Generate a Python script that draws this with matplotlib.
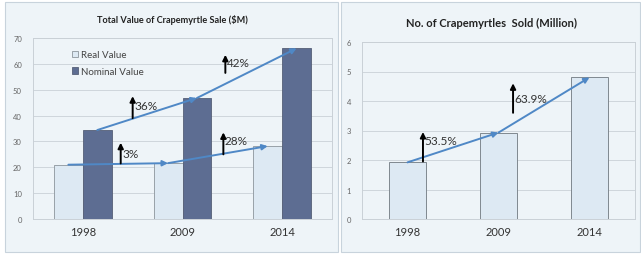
from matplotlib import pyplot as plt
from matplotlib.patches import Rectangle

years = ['1998', '2009', '2014']
real_value = [21.0, 21.6, 28.2]
nominal_value = [34.4, 46.8, 66.0]
sold_million = [1.92, 2.93, 4.80]

value_pcts = ['3%', '28%']
nominal_pcts = ['36%', '42%']
sold_pcts = ['53.5%', '63.9%']

W, H = 641, 255
plt.rcParams['font.family'] = ['Lato', 'DejaVu Sans']

bg = '#eef4f8'
real_c = '#dde9f3'
nom_c = '#5d6d92'
line_c = '#4f88c6'
grid_c = '#cfd6dc'


def px(x0, y0, x1, y1):
    # pixel box (top-left origin) -> figure fraction rect
    return [x0 / W, 1 - y1 / H, (x1 - x0) / W, (y1 - y0) / H]


fig = plt.figure(figsize=(W / 100, H / 100), dpi=100)
fig.patch.set_facecolor('white')
for (x0, y0, x1, y1) in [(5, 3, 338, 253), (341, 3, 640, 253)]:
    fig.patches.append(Rectangle((x0 / W, 1 - y1 / H), (x1 - x0) / W, (y1 - y0) / H,
                                 transform=fig.transFigure, facecolor=bg,
                                 edgecolor='#c8d3dc', lw=0.8, zorder=-10))


def style(ax, ymax, step):
    ax.set_facecolor(bg)
    ax.set_ylim(0, ymax)
    ax.set_xlim(-0.5, 2.5)
    ax.set_yticks(range(0, ymax + 1, step))
    ax.yaxis.grid(True, color=grid_c, lw=0.7)
    ax.set_axisbelow(True)
    for s in ax.spines.values():
        s.set_color('#c9d0d6')
        s.set_linewidth(0.7)
    ax.tick_params(axis='y', length=0, labelsize=5.5, labelcolor='#666666', pad=8)
    ax.tick_params(axis='x', length=0, labelsize=8, labelcolor='#333333', pad=5)
    ax.set_xticks(range(len(years)))
    ax.set_xticklabels(years)


def up_arrow(ax, x, y0, y1, label, ty):
    ax.annotate('', xy=(x, y1), xytext=(x, y0),
                arrowprops=dict(arrowstyle='-|>', color='black', lw=1.4,
                                mutation_scale=8, shrinkA=0, shrinkB=0), zorder=6)
    ax.text(x + 0.015, ty, label, fontsize=8.5, color='#333333', va='center', zorder=6)


def trend(ax, xs, ys):
    for i in range(len(xs) - 1):
        ax.annotate('', xy=(xs[i + 1], ys[i + 1]), xytext=(xs[i], ys[i]),
                    arrowprops=dict(arrowstyle='-|>', color=line_c, lw=1.4,
                                    mutation_scale=8, shrinkA=0, shrinkB=0), zorder=5)


# left panel
ax1 = fig.add_axes(px(33, 39, 332, 220))
style(ax1, 70, 10)
x = range(len(years))
bw = 0.29
xr = [i - bw / 2 for i in x]
xn = [i + bw / 2 for i in x]
ax1.bar(xr, real_value, bw, color=real_c, edgecolor='#8c959c', lw=0.6, label='Real Value')
ax1.bar(xn, nominal_value, bw, color=nom_c, edgecolor='#555f77', lw=0.6, label='Nominal Value')
trend(ax1, xr, real_value)
trend(ax1, xn, nominal_value)
up_arrow(ax1, 0.38, 21.5, 29.5, value_pcts[0], 25.5)
up_arrow(ax1, 1.41, 25, 33.5, value_pcts[1], 30.5)
up_arrow(ax1, 0.5, 39, 47.5, nominal_pcts[0], 44)
up_arrow(ax1, 1.43, 56.5, 63.5, nominal_pcts[1], 60.5)
ax1.legend(loc='upper left', bbox_to_anchor=(0.1, 0.98), frameon=False, fontsize=7,
           handlelength=0.7, handleheight=0.7, handletextpad=0.3, labelspacing=0.8,
           labelcolor='#444444')
fig.text(172 / W, 1 - 20 / H, 'Total Value of Crapemyrtle Sale ($M)', ha='center',
         va='center', fontsize=6.6, fontweight='bold', color='#222222')

# right panel
ax2 = fig.add_axes(px(362, 43, 635, 220))
style(ax2, 6, 1)
ax2.bar(x, sold_million, 0.41, color=real_c, edgecolor='#7f888f', lw=0.7)
trend(ax2, list(x), sold_million)
up_arrow(ax2, 0.17, 1.95, 2.95, sold_pcts[0], 2.65)
up_arrow(ax2, 1.16, 3.6, 4.6, sold_pcts[1], 4.1)
fig.text(491 / W, 1 - 23 / H, 'No. of Crapemyrtles  Sold (Million)', ha='center',
         va='center', fontsize=8, fontweight='bold', color='#222222')

fig.savefig('out.png', dpi=100)
